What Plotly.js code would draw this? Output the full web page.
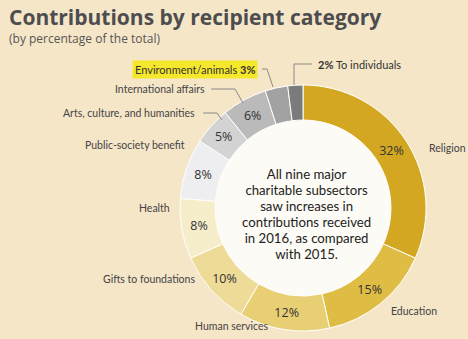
<!DOCTYPE html>
<html>
<head>
<meta charset="utf-8">
<script src="https://cdn.plot.ly/plotly-3.0.1.min.js"></script>
<style>html,body{margin:0;padding:0;background:#f5e6c8;}#chart{width:468px;height:339px;}</style>
</head>
<body>
<div id="chart"></div>
<script>
// ---- data ----
var categories = ["Religion", "Education", "Human services", "Gifts to foundations", "Health",
  "Public-society benefit", "Arts, culture, and humanities", "International affairs",
  "Environment/animals", "To individuals"];
var values = [32, 15, 12, 10, 8, 8, 5, 6, 3, 2];
var sliceColors = ["#d3a722", "#dfbd45", "#e8cf74", "#eddb97", "#f6edcb",
  "#eeeef0", "#d3d3d3", "#bababa", "#a2a2a2", "#7b7b7b"];
var centerLines = ["All nine major", "charitable subsectors", "saw increases in",
  "contributions received", "in 2016, as compared", "with 2015."];

var W = 468, H = 339;
function px(x){ return x / W; }
function py(y){ return 1 - y / H; }

var cx = 303, cy = 208, R = 123, hole = 0.715;
var insideText = values.map(function(v, i){ return i < 8 ? v + "%" : ""; });

var FONT = "Open Sans, sans-serif";
var LFONT = "Lato, sans-serif";
var trace = {
  type: "pie",
  labels: categories,
  values: values,
  text: insideText,
  textinfo: "text",
  textposition: "inside",
  insidetextorientation: "horizontal",
  textfont: {family: FONT, size: 12.5, color: "#333"},
  sort: false,
  direction: "clockwise",
  rotation: 0,
  hole: hole,
  marker: {colors: sliceColors, line: {color: "#ffffff", width: 1}},
  domain: {x: [px(cx - R), px(cx + R)], y: [py(cy + R), py(cy - R)]},
  hoverinfo: "none",
  showlegend: false
};

// outside labels: [text, x, y, anchor]
var outside = [
  [categories[0], 427, 148, "left"],
  [categories[1], 389, 311, "left"],
  [categories[2], 193, 326, "left"],
  [categories[3], 197, 279, "right"],
  [categories[4], 172, 208, "right"],
  [categories[5], 187, 145, "right"],
  [categories[6], 197, 113, "right"],
  [categories[7], 207, 89, "right"]
];
var annotations = outside.map(function(o){
  return {text: o[0], x: px(o[1]), y: py(o[2]), xref: "paper", yref: "paper",
    xanchor: o[3], yanchor: "middle", showarrow: false,
    font: {family: LFONT, size: 10.5, color: "#444"}};
});
annotations.push({text: categories[8] + " <b>" + values[8] + "%</b>", x: px(258), y: py(69),
  xref: "paper", yref: "paper", xanchor: "right", yanchor: "middle", showarrow: false,
  bgcolor: "#f5e72c", borderpad: 2,
  font: {family: LFONT, size: 11, color: "#333"}});
annotations.push({text: "<b>" + values[9] + "%</b> " + categories[9], x: px(316), y: py(64),
  xref: "paper", yref: "paper", xanchor: "left", yanchor: "middle", showarrow: false,
  font: {family: LFONT, size: 11, color: "#333"}});
var CENTER_SIZE = 13.2, CENTER_STEP = 16;
var centerIndex = annotations.length;
// block is tightened after drawing; compensate the anchor shift (half of the removed spacing)
var centerShift = (centerLines.length - 1) * (CENTER_SIZE * 1.3 - CENTER_STEP) / 2;
annotations.push({text: centerLines.join("<br>"), x: px(306), y: py(214.5 + centerShift),
  xref: "paper", yref: "paper", xanchor: "center", yanchor: "middle", showarrow: false,
  align: "center", font: {family: LFONT, size: CENTER_SIZE, color: "#222"}});
annotations.push({text: "<b>Contributions by recipient category</b>", x: px(7), y: py(17),
  xref: "paper", yref: "paper", xanchor: "left", yanchor: "middle", showarrow: false,
  font: {family: FONT, size: 21, color: "#4d4d4f"}});
annotations.push({text: "(by percentage of the total)", x: px(7), y: py(39),
  xref: "paper", yref: "paper", xanchor: "left", yanchor: "middle", showarrow: false,
  font: {family: FONT, size: 12, color: "#555"}});

function path(pts){
  return pts.map(function(p, i){ return (i ? "L" : "M") + px(p[0]) + "," + py(p[1]); }).join(" ");
}
var lineStyle = {color: "#8a8a8a", width: 1};
var shapes = [
  {type: "circle", xref: "paper", yref: "paper", layer: "below",
   x0: px(cx - R * hole), x1: px(cx + R * hole), y0: py(cy + R * hole), y1: py(cy - R * hole),
   fillcolor: "#fdfbf5", line: {width: 0}},
  {type: "path", xref: "paper", yref: "paper", path: path([[312,64],[294,64],[294,85]]), line: lineStyle},
  {type: "path", xref: "paper", yref: "paper", path: path([[262,69],[267,69],[273,87]]), line: lineStyle},
  {type: "path", xref: "paper", yref: "paper", path: path([[211,89],[235,89],[243,103]]), line: lineStyle},
  {type: "path", xref: "paper", yref: "paper", path: path([[203,113],[217,113],[222,120]]), line: lineStyle}
];

var layout = {
  width: W, height: H,
  margin: {l: 0, r: 0, t: 0, b: 0},
  paper_bgcolor: "#f5e6c8",
  plot_bgcolor: "#f5e6c8",
  showlegend: false,
  annotations: annotations,
  shapes: shapes
};
Plotly.newPlot("chart", [trace], layout, {displayModeBar: false, staticPlot: true}).then(function(gd){
  var g = gd.querySelector('.annotation[data-index="' + centerIndex + '"]');
  if (!g) return;
  var lines = g.querySelectorAll('tspan.line');
  for (var i = 0; i < lines.length; i++) {
    lines[i].setAttribute('dy', (i * CENTER_STEP) + 'px');
  }
});
</script>
</body>
</html>
